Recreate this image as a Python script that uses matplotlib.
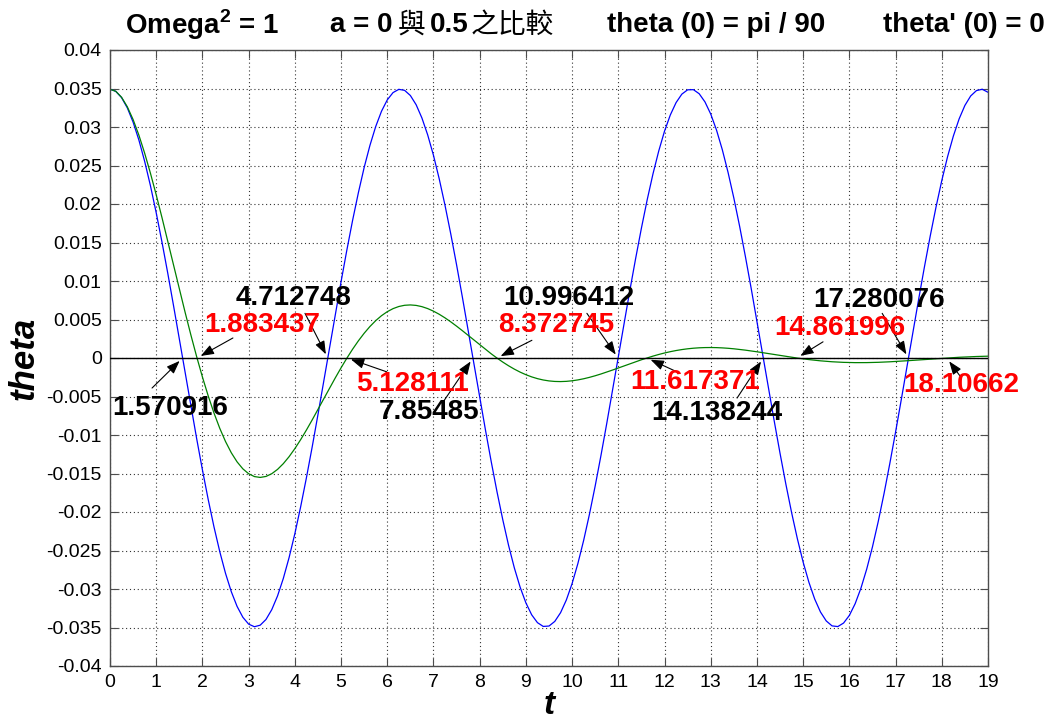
import numpy as np
import matplotlib.pyplot as plt

plt.rcParams['font.family'] = ['Liberation Sans', 'DejaVu Sans']
plt.rcParams['axes.unicode_minus'] = False
plt.rcParams['mathtext.fontset'] = 'custom'
plt.rcParams['mathtext.bf'] = 'Liberation Sans:bold'

# 時間取樣 (每 0.125 一點)
t = np.linspace(0, 19, 153)

# a = 0 (無阻尼)
theta_a0 = [
    0.03491, 0.03463, 0.03382, 0.03248, 0.03063, 0.02831, 0.02554, 0.02238,
    0.01886, 0.01505, 0.01101, 0.00679, 0.00247, -0.00189, -0.00622, -0.01046,
    -0.01453, -0.01837, -0.02193, -0.02514, -0.02797, -0.03035, -0.03226, -0.03367,
    -0.03456, -0.03490, -0.03470, -0.03396, -0.03269, -0.03091, -0.02864, -0.02593,
    -0.02282, -0.01934, -0.01557, -0.01156, -0.00736, -0.00305, 0.00131, 0.00565,
    0.00990, 0.01400, 0.01788, 0.02147, 0.02474, 0.02761, 0.03006, 0.03204,
    0.03352, 0.03447, 0.03489, 0.03476, 0.03409, 0.03289, 0.03117, 0.02897,
    0.02632, 0.02325, 0.01982, 0.01609, 0.01210, 0.00792, 0.00362, -0.00073,
    -0.00508, -0.00935, -0.01347, -0.01738, -0.02101, -0.02433, -0.02726, -0.02976,
    -0.03180, -0.03335, -0.03437, -0.03486, -0.03481, -0.03421, -0.03308, -0.03143,
    -0.02929, -0.02669, -0.02368, -0.02030, -0.01660, -0.01264, -0.00849, -0.00420,
    0.00015, 0.00451, 0.00879, 0.01293, 0.01687, 0.02055, 0.02391, 0.02689,
    0.02946, 0.03156, 0.03317, 0.03427, 0.03483, 0.03485, 0.03432, 0.03326,
    0.03168, 0.02960, 0.02706, 0.02410, 0.02077, 0.01711, 0.01318, 0.00905,
    0.00477, 0.00042, -0.00393, -0.00822, -0.01239, -0.01636, -0.02008, -0.02348,
    -0.02652, -0.02914, -0.03131, -0.03299, -0.03415, -0.03479, -0.03488, -0.03442,
    -0.03343, -0.03191, -0.02990, -0.02742, -0.02452, -0.02123, -0.01761, -0.01371,
    -0.00961, -0.00535, -0.00100, 0.00335, 0.00766, 0.01185, 0.01585, 0.01960,
    0.02305, 0.02614, 0.02882, 0.03105, 0.03280, 0.03403, 0.03473, 0.03490,
    0.03451,
]

# a = 0.5 (有阻尼)
theta_a05 = [
    0.034907, 0.034640, 0.033865, 0.032625, 0.030967, 0.028941, 0.026599, 0.023998,
    0.021190, 0.018233, 0.015178, 0.012080, 0.008986, 0.005943, 0.002995, 0.000181,
    -0.002466, -0.004915, -0.007142, -0.009125, -0.010850, -0.012307, -0.013489, -0.014396,
    -0.015029, -0.015398, -0.015510, -0.015382, -0.015028, -0.014469, -0.013724, -0.012818,
    -0.011772, -0.010611, -0.009360, -0.008044, -0.006685, -0.005308, -0.003934, -0.002584,
    -0.001276, -0.000028, 0.001144, 0.002229, 0.003213, 0.004090, 0.004852, 0.005494,
    0.006014, 0.006411, 0.006688, 0.006846, 0.006892, 0.006830, 0.006669, 0.006417,
    0.006082, 0.005677, 0.005209, 0.004692, 0.004135, 0.003549, 0.002944, 0.002332,
    0.001722, 0.001123, 0.000542, -0.000011, -0.000530, -0.001010, -0.001446, -0.001833,
    -0.002169, -0.002452, -0.002681, -0.002855, -0.002976, -0.003044, -0.003062, -0.003033,
    -0.002959, -0.002846, -0.002696, -0.002514, -0.002305, -0.002074, -0.001826, -0.001565,
    -0.001297, -0.001025, -0.000754, -0.000488, -0.000230, 0.000015, 0.000245, 0.000458,
    0.000650, 0.000821, 0.000970, 0.001094, 0.001195, 0.001271, 0.001324, 0.001353,
    0.001360, 0.001347, 0.001313, 0.001262, 0.001195, 0.001113, 0.001020, 0.000917,
    0.000807, 0.000690, 0.000571, 0.000450, 0.000330, 0.000212, 0.000098, -0.000011,
    -0.000113, -0.000207, -0.000292, -0.000368, -0.000433, -0.000488, -0.000533, -0.000566,
    -0.000589, -0.000602, -0.000604, -0.000598, -0.000583, -0.000560, -0.000529, -0.000493,
    -0.000451, -0.000406, -0.000356, -0.000305, -0.000251, -0.000198, -0.000144, -0.000092,
    -0.000041, 0.000007, 0.000052, 0.000094, 0.000131, 0.000165, 0.000194, 0.000218,
    0.000237,
]

# 零點
zeros_a0 = [1.570916, 4.712748, 7.85485, 10.996412, 14.138244, 17.280076]
zeros_a05 = [1.883437, 5.128111, 8.372745, 11.617371, 14.861996, 18.10662]

yticks = [-0.04, -0.035, -0.03, -0.025, -0.02, -0.015, -0.01, -0.005, 0,
          0.005, 0.01, 0.015, 0.02, 0.025, 0.03, 0.035, 0.04]
ytick_labels = ['-0.04', '-0.035', '-0.03', '-0.025', '-0.02', '-0.015', '-0.01',
                '-0.005', '0', '0.005', '0.01', '0.015', '0.02', '0.025', '0.03',
                '0.035', '0.04']
xticks = list(range(0, 20))

# 標註文字與箭頭起點位置
text_pos_a0 = [(1.30, -0.0065), (3.98, 0.0078), (6.90, -0.0070),
               (9.93, 0.0078), (13.14, -0.0071), (16.64, 0.0075)]
tail_pos_a0 = [(0.91, -0.0039), (4.22, 0.0058), (7.21, -0.0057),
               (10.32, 0.0058), (13.57, -0.0052), (16.71, 0.0058)]
text_pos_a05 = [(3.29, 0.0043), (6.54, -0.0034), (9.65, 0.0043),
                (12.66, -0.0031), (15.80, 0.0039), (18.42, -0.0035)]
tail_pos_a05 = [(2.66, 0.0026), (5.99, -0.0018), (9.13, 0.0023),
                (12.27, -0.0018), (15.43, 0.0021), (18.39, -0.0023)]

fig = plt.figure(figsize=(10.47, 7.24), dpi=100)
ax = fig.add_axes([110 / 1047, 1 - 666 / 724, 878 / 1047, 616 / 724])

ax.plot(t, theta_a0, color='#0000ff', lw=0.9)
ax.plot(t, theta_a05, color='#008000', lw=0.9)
ax.axhline(0, color='k', lw=1.0, zorder=3)

ax.set_xlim(0, 19)
ax.set_ylim(-0.04, 0.04)
ax.set_xticks(xticks)
ax.set_yticks(yticks)
ax.set_yticklabels(ytick_labels)
ax.tick_params(direction='in', length=6, top=True, right=True,
               labelsize=14, color='0.3', pad=6)
for s in ax.spines.values():
    s.set_color('0.3')
    s.set_linewidth(1.0)
ax.grid(True, linestyle=(0, (1, 2.5)), color='0.2', lw=0.8)

arrow = dict(arrowstyle='-|>,head_length=0.8,head_width=0.3', color='k',
             lw=0.8, mutation_scale=10, shrinkA=0, shrinkB=3)
for z, tp, tl in zip(zeros_a0, text_pos_a0, tail_pos_a0):
    ax.annotate('', xy=(z, 0), xytext=tl, arrowprops=arrow, zorder=5)
    ax.text(tp[0], tp[1], f'{z}', color='k', fontsize=20, fontweight='bold',
            ha='center', va='center', zorder=6)
for z, tp, tl in zip(zeros_a05, text_pos_a05, tail_pos_a05):
    ax.annotate('', xy=(z, 0), xytext=tl, arrowprops=arrow, zorder=5)
    ax.text(tp[0], tp[1], f'{z}', color='#ff0000', fontsize=20, fontweight='bold',
            ha='center', va='center', zorder=6)

ax.set_xlabel('t', fontsize=24, fontweight='bold', style='italic', labelpad=-1)
ax.set_ylabel('theta', fontsize=25, fontweight='bold', style='italic', labelpad=4)

# 標題分段
ty = 1 - 25 / 724
fig.text(125 / 1047, ty, r'Omega$^{\mathbf{2}}$ = 1', fontsize=20, fontweight='bold', va='center')
fig.text(330 / 1047, ty, 'a = 0', fontsize=20, fontweight='bold', va='center')
fig.text(398 / 1047, ty, '與', fontsize=20, family=['Noto Sans CJK TC'], va='center')
fig.text(430 / 1047, ty, '0.5', fontsize=20, fontweight='bold', va='center')
fig.text(471 / 1047, ty, '之比較', fontsize=20, family=['Noto Sans CJK TC'], va='center')
fig.text(607 / 1047, ty, 'theta (0) = pi / 90', fontsize=20, fontweight='bold', va='center')
fig.text(883 / 1047, ty, "theta' (0) = 0", fontsize=20, fontweight='bold', va='center')

fig.savefig('out.png', dpi=100)
